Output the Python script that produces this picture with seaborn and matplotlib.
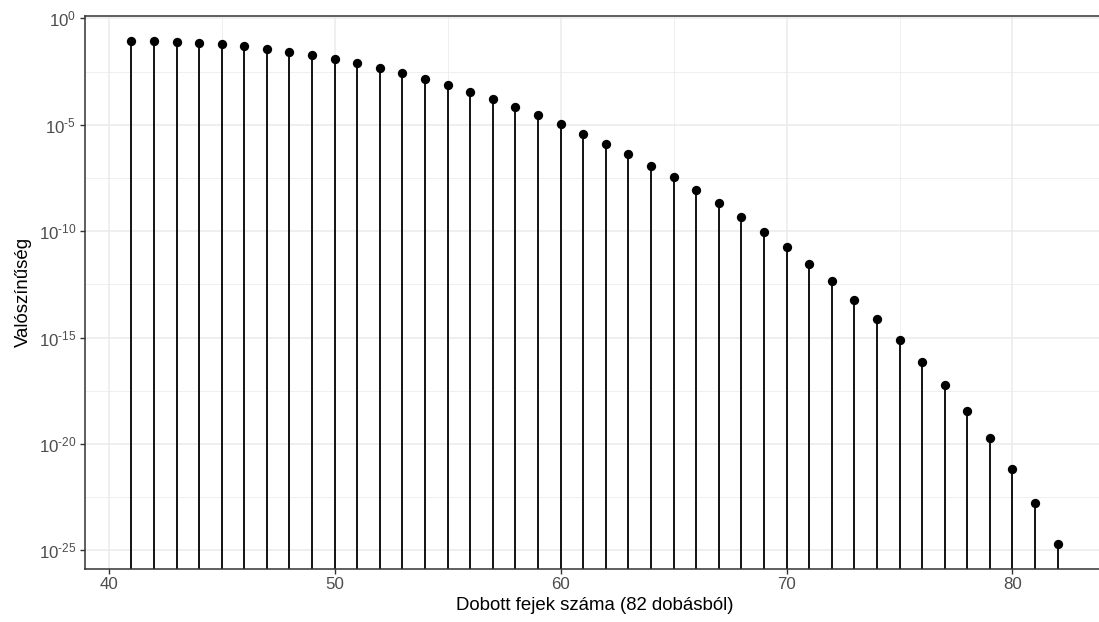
import matplotlib
matplotlib.use("Agg")
import matplotlib.pyplot as plt
import matplotlib.ticker as mticker
import seaborn as sns
import pandas as pd
import numpy as np

# Number of heads (out of 82 tosses)
heads = list(range(41, 83))
# Probabilities (log scale)
prob = [8.81e-02, 8.60e-02, 8.00e-02, 7.09e-02, 5.99e-02, 4.82e-02, 3.69e-02,
        2.69e-02, 1.87e-02, 1.23e-02, 7.73e-03, 4.61e-03, 2.61e-03, 1.40e-03,
        7.13e-04, 3.44e-04, 1.57e-04, 6.76e-05, 2.75e-05, 1.05e-05, 3.80e-06,
        1.29e-06, 4.09e-07, 1.21e-07, 3.36e-08, 8.66e-09, 2.07e-09, 4.56e-10,
        9.25e-11, 1.72e-11, 2.90e-12, 4.44e-13, 6.08e-14, 7.39e-15, 7.89e-16,
        7.26e-17, 5.66e-18, 3.63e-19, 1.84e-20, 6.89e-22, 1.70e-23, 2.07e-25]

y_ticks = [1e0, 1e-5, 1e-10, 1e-15, 1e-20, 1e-25]
x_ticks = [40, 50, 60, 70, 80]
x_label = "Dobott fejek száma (82 dobásból)"
y_label = "Valószínűség"

df = pd.DataFrame({"heads": heads, "prob": prob})

sns.set_theme(style="white")
plt.rcParams["font.family"] = ["Liberation Sans", "DejaVu Sans"]
plt.rcParams["mathtext.fontset"] = "custom"
plt.rcParams["mathtext.rm"] = "Liberation Sans"

fig = plt.figure(figsize=(10.99, 6.22), dpi=100)
ax = fig.add_axes([85 / 1099, 1 - 568.7 / 622, 1019 / 1099, (568.7 - 15.7) / 622])
ax.set_yscale("log")

lx = np.log10(df["prob"].values)
rng = lx.max() - lx.min()
ylo = 10 ** (lx.min() - 0.05 * rng)
yhi = 10 ** (lx.max() + 0.05 * rng)
xr = df["heads"].max() - df["heads"].min()
ax.set_xlim(df["heads"].min() - 0.05 * xr, df["heads"].max() + 0.05 * xr)
ax.set_ylim(ylo, yhi)

grid_c = "#EBEBEB"
ax.set_axisbelow(True)
ax.set_xticks(x_ticks)
ax.set_xticks([45, 55, 65, 75], minor=True)
ax.set_yticks(y_ticks)
ax.yaxis.set_minor_locator(mticker.FixedLocator([10 ** (-2.5 - 5 * i) for i in range(5)]))
ax.grid(True, which="major", color=grid_c, linewidth=1.1)
ax.grid(True, which="minor", color=grid_c, linewidth=0.55)


def fmt(v, p):
    e = int(round(np.log10(v)))
    es = str(e).replace("-", "\u2010")
    return r"$\mathregular{10^{%s}}$" % es


ax.yaxis.set_major_formatter(mticker.FuncFormatter(fmt))

ax.vlines(df["heads"], ylo * 1e-5, df["prob"], color="black", linewidth=1.3, zorder=2)
sns.scatterplot(data=df, x="heads", y="prob", ax=ax, color="black", s=45,
                edgecolor="black", linewidth=0, zorder=3)

for s in ax.spines.values():
    s.set_color("#333333")
    s.set_linewidth(1.1)

ax.tick_params(axis="both", which="major", direction="out", length=3.8, width=1.0,
               color="#333333", labelcolor="#4D4D4D", labelsize=12.2, pad=2.5,
               left=True, bottom=True)
ax.tick_params(axis="both", which="minor", length=0)

ax.set_xlabel(x_label, fontsize=13.4, color="black", labelpad=3)
ax.set_ylabel(y_label, fontsize=13.4, color="black", labelpad=5)

fig.savefig("out.png", dpi=100)
